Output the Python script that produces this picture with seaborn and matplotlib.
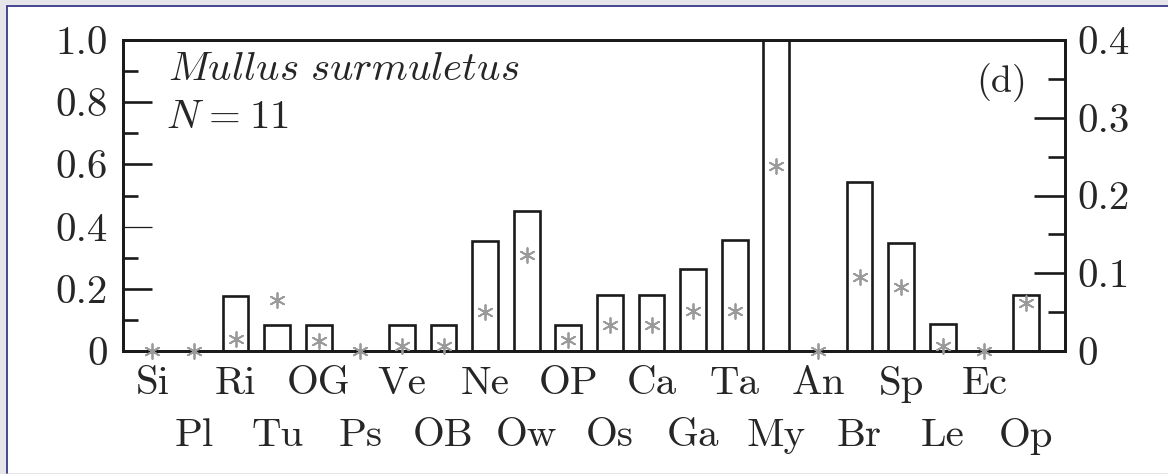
import matplotlib
matplotlib.use("Agg")
import matplotlib.pyplot as plt
from matplotlib.lines import Line2D
from matplotlib.patches import Rectangle
import seaborn as sns
import pandas as pd

# ---- data ----
categories = ["Si", "Pl", "Ri", "Tu", "OG", "Ps", "Ve", "OB", "Ne", "Ow", "OP",
              "Os", "Ca", "Ga", "Ta", "My", "An", "Br", "Sp", "Le", "Ec", "Op"]
bar_values = [0.0, 0.0, 0.176, 0.082, 0.082, 0.0, 0.082, 0.082, 0.355, 0.451, 0.082,
              0.179, 0.179, 0.263, 0.358, 1.0, 0.0, 0.545, 0.348, 0.087, 0.0, 0.179]
star_values = [0.0, 0.0, 0.015, 0.065, 0.013, 0.0, 0.007, 0.007, 0.050, 0.124, 0.014,
               0.034, 0.034, 0.052, 0.052, 0.238, 0.0, 0.095, 0.082, 0.007, 0.0, 0.062]
left_ticks = [0, 0.2, 0.4, 0.6, 0.8, 1.0]
left_labels = ["0", "0.2", "0.4", "0.6", "0.8", "1.0"]
right_ticks = [0, 0.1, 0.2, 0.3, 0.4]
right_labels = ["0", "0.1", "0.2", "0.3", "0.4"]
species = r"$\mathit{Mullus\ surmuletus}$"
n_text = r"$N\hspace{0.06}=\hspace{0.06}11$"
panel = "(d)"

df = pd.DataFrame({"cat": categories, "bar": bar_values, "star": star_values})

sns.set_style("ticks")
plt.rcParams["font.family"] = ["cmr10", "DejaVu Serif"]
plt.rcParams["mathtext.fontset"] = "cm"
plt.rcParams["axes.formatter.use_mathtext"] = True
plt.rcParams["axes.unicode_minus"] = False

FS = 29.5
fig = plt.figure(figsize=(11.68, 4.74), dpi=100)
fig.patch.set_facecolor("#e6e6ea")
W, H = 1168.0, 474.0
fig.add_artist(Rectangle((6.5 / W, 1.5 / H), 1.2, (H - 6.5) / H - 1.5 / H,
                         transform=fig.transFigure, facecolor="white",
                         edgecolor="none", zorder=-10))
fig.add_artist(Line2D([6.5 / W, 6.5 / W], [1.5 / H, (H - 5.5) / H],
                      transform=fig.transFigure, color="#3a3a8a", lw=1.3, zorder=-5))
fig.add_artist(Line2D([6.5 / W, 1.0], [(H - 5.5) / H, (H - 5.5) / H],
                      transform=fig.transFigure, color="#3a3a8a", lw=1.3, zorder=-5))

ax = fig.add_axes([123 / W, (H - 351) / H, (1065 - 123) / W, (351 - 40) / H])
ax.set_facecolor("none")
sns.barplot(data=df, x="cat", y="bar", color="white", saturation=1,
            edgecolor="#1a1a1a", linewidth=1.9, width=0.62, ax=ax, zorder=2)
ax.set_xlim(-0.707, 21.94)
ax.set_ylim(0, 1.0)
ax.set_xlabel("")
ax.set_ylabel("")

ax2 = ax.twinx()
sns.scatterplot(data=df, x="cat", y="star", marker=(6, 2, 0), s=115,
                color="#9a9a9a", linewidth=1.3, edgecolor="#9a9a9a",
                ax=ax2, zorder=3, clip_on=False)
ax2.set_ylim(0, 0.4)
ax2.set_xlim(-0.707, 21.94)
ax2.set_ylabel("")
ax2.set_xlabel("")

for a in (ax, ax2):
    for sp in a.spines.values():
        sp.set_linewidth(2.0)
        sp.set_color("#1a1a1a")

ax.set_yticks(left_ticks)
ax.set_yticklabels(left_labels, fontsize=FS)
ax.set_yticks([0.1, 0.3, 0.5, 0.7, 0.9], minor=True)
ax.tick_params(axis="y", which="major", direction="in", length=21, width=1.9,
               pad=11, color="#1a1a1a", right=False)
ax.tick_params(axis="y", which="minor", direction="in", length=11, width=1.9,
               color="#1a1a1a", right=False)
ax.yaxis.get_major_ticks()[2].tick1line.set_markeredgewidth(0.9)

ax2.set_yticks(right_ticks)
ax2.set_yticklabels(right_labels, fontsize=FS)
ax2.set_yticks([0.05, 0.15, 0.25, 0.35], minor=True)
ax2.tick_params(axis="y", which="major", direction="in", length=22, width=1.9,
                pad=9, color="#1a1a1a")
ax2.tick_params(axis="y", which="minor", direction="in", length=12, width=1.9,
                color="#1a1a1a")

ax.tick_params(axis="x", length=0, labelsize=FS)
for i, t in enumerate(ax.xaxis.get_major_ticks()):
    t.set_pad(11 if i % 2 == 0 else 48)
ax2.tick_params(axis="x", length=0, labelbottom=False)

ax.text(0.0478, 0.871, species, transform=ax.transAxes, fontsize=FS,
        ha="left", va="baseline")
ax.text(0.0456, 0.717, n_text, transform=ax.transAxes, fontsize=FS,
        ha="left", va="baseline")
ax.text(0.9597, 0.833, panel, transform=ax.transAxes, fontsize=FS - 2,
        ha="right", va="baseline")

fig.savefig("out.png", dpi=100, facecolor=fig.get_facecolor())
